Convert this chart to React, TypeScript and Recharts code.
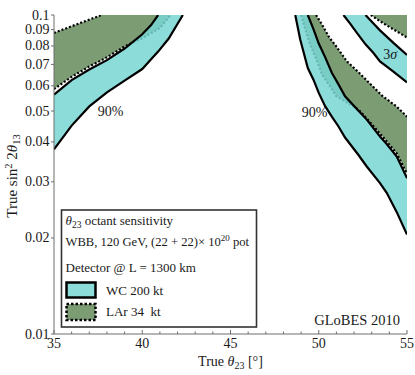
import React from 'react';
import { ComposedChart, Area, Line, XAxis, YAxis, ReferenceDot } from 'recharts';

// ---------------- data ----------------
const X_DOMAIN: [number, number] = [35, 55];
const Y_DOMAIN: [number, number] = [0.01, 0.1];
const Y_TOP = 0.1;

const xTicks = [35, 36, 37, 38, 39, 40, 41, 42, 43, 44, 45, 46, 47, 48, 49, 50, 51, 52, 53, 54, 55];
const xLabelTicks = [35, 40, 45, 50, 55];
const yTicks = [0.01, 0.02, 0.03, 0.04, 0.05, 0.06, 0.07, 0.08, 0.09, 0.1];
const yTickLabels = ['0.01', '0.02', '0.03', '0.04', '0.05', '0.06', '0.07', '0.08', '0.09', '0.1'];

// WC 200 kt, 90% band, lower octant (left)
const wcLeftTheta = [35, 36, 37, 38, 39, 40, 40.5, 40.9, 41.5, 42.3];
const wcLeftLow = [0.0379, 0.045, 0.0517, 0.0572, 0.0623, 0.0677, 0.0726, 0.0768, 0.0844, 0.1];
const wcLeftHigh = [0.0563, 0.0625, 0.0675, 0.0722, 0.0785, 0.087, 0.093, 0.1, null, null];

// LAr 34 kt, 90% band, lower octant (left)
const larLeftTheta = [35, 36, 37, 37.7, 38, 39, 40, 41, 41.6];
const larLeftLow = [0.0586, 0.064, 0.069, 0.0722, 0.0737, 0.0797, 0.0845, 0.091, 0.1];
const larLeftHigh = [0.0879, 0.0922, 0.0967, 0.1, null, null, null, null, null];

// WC 200 kt, 90% band, higher octant (right)
const wcRight90Theta = [48.67, 48.95, 49.38, 49.7, 50.0, 50.36, 50.74, 51.11, 51.49, 52.25, 52.72, 53.47, 53.85, 54.42, 55];
const wcRight90Low = [0.1, 0.0838, 0.0682, 0.0627, 0.057, 0.0518, 0.048, 0.0448, 0.0413, 0.0364, 0.0335, 0.0297, 0.0277, 0.0241, 0.0205];
const wcRight90High = [null, null, 0.1, 0.0903, 0.0814, 0.0738, 0.0659, 0.0607, 0.0556, 0.0501, 0.047, 0.0416, 0.0394, 0.036, 0.0308];

// LAr 34 kt, 90% band, higher octant (right)
const larRight90Theta = [49.0, 49.3, 49.51, 49.85, 50.19, 50.6, 50.98, 51.6, 52.25, 52.7, 53.6, 54.42, 55];
const larRight90Low = [0.1, 0.0879, 0.0808, 0.0729, 0.065, 0.0602, 0.0558, 0.0532, 0.0505, 0.0475, 0.0417, 0.0368, 0.0318];
const larRight90High = [null, null, null, 0.1, 0.0932, 0.085, 0.0799, 0.0715, 0.0662, 0.0625, 0.0558, 0.0516, 0.048];

// WC 200 kt, 3 sigma band, higher octant (right)
const wcRight3sTheta = [51.4, 51.8, 52.15, 52.65, 53.1, 53.47, 54.23, 55];
const wcRight3sLow = [0.1, 0.0936, 0.088, 0.0809, 0.076, 0.0715, 0.0665, 0.0615];
const wcRight3sHigh = [null, null, null, 0.1, 0.094, 0.0895, 0.0818, 0.075];

// LAr 34 kt, 3 sigma band, higher octant (right)
const larRight3sTheta = [52.95, 53.4, 53.85, 55];
const larRight3sLow = [0.1, 0.0962, 0.0928, 0.085];
const larRight3sHigh = [null, null, null, null];

// ---------------- helpers ----------------
type Num = number | null;
const toRangeRows = (theta: number[], low: number[], high: Num[]) =>
  theta.map((x, i) => ({ x, range: [low[i], high[i] ?? Y_TOP] }));
const toLineRows = (theta: number[], vals: Num[]) =>
  theta.flatMap((x, i) => (vals[i] == null ? [] : [{ x, y: vals[i] as number }]));

const wcBands = [
  { theta: wcLeftTheta, low: wcLeftLow, high: wcLeftHigh },
  { theta: wcRight90Theta, low: wcRight90Low, high: wcRight90High },
  { theta: wcRight3sTheta, low: wcRight3sLow, high: wcRight3sHigh },
];
const larBands = [
  { theta: larLeftTheta, low: larLeftLow, high: larLeftHigh },
  { theta: larRight90Theta, low: larRight90Low, high: larRight90High },
  { theta: larRight3sTheta, low: larRight3sLow, high: larRight3sHigh },
];

// ---------------- styles ----------------
const FONT = "'Liberation Serif', 'DejaVu Serif', 'Times New Roman', serif";
const INK = '#1a1a1a';
const FRAME = '#6e6e6e';
const CYAN = '#78D6D3';
const CYAN_SWATCH = '#8CDCDA';
const GREEN = '#7C9C74';
const W = 415;
const H = 375;

const BottomTick = (props: any) => {
  const { x, y, payload } = props;
  const v = payload.value;
  const major = xLabelTicks.includes(v);
  return (
    <g>
      <line x1={x} x2={x} y1={y} y2={y - (major ? 4 : 2.5)} stroke={FRAME} strokeWidth={1} />
      {major && (
        <text x={x} y={y + 14} textAnchor="middle" fontFamily={FONT} fontSize={14} fill={INK}>
          {v}
        </text>
      )}
    </g>
  );
};

const TopTick = (props: any) => {
  const { x, y, payload } = props;
  const major = xLabelTicks.includes(payload.value);
  return <line x1={x} x2={x} y1={y} y2={y + (major ? 4 : 2.5)} stroke={FRAME} strokeWidth={1} />;
};

const LeftTick = (props: any) => {
  const { x, y, payload } = props;
  const i = yTicks.findIndex((t) => Math.abs(t - payload.value) < 1e-9);
  return (
    <g>
      <line x1={x - 3} x2={x} y1={y} y2={y} stroke={FRAME} strokeWidth={1} />
      <text x={x - 4.5} y={y + 4.5} textAnchor="end" fontFamily={FONT} fontSize={14} fill={INK}>
        {i >= 0 ? yTickLabels[i] : ''}
      </text>
    </g>
  );
};

const RightTick = (props: any) => {
  const { x, y } = props;
  return <line x1={x} x2={x - 3} y1={y} y2={y} stroke={FRAME} strokeWidth={1} />;
};

const textShape = (content: React.ReactNode) => (p: any) => (
  <text x={p.cx} y={p.cy + 4.5} textAnchor="middle" fontFamily={FONT} fontSize={14} fill={INK}>
    {content}
  </text>
);

export default function App() {
  return (
    <div style={{ position: 'relative', width: W, height: H }}>
      <style>{'body{margin:0}'}</style>
      <ComposedChart width={W} height={H} margin={{ top: 15, right: 8, bottom: 0, left: 0 }}>
        {larBands.map((b, i) => (
          <Area
            key={'lar-area-' + i}
            xAxisId="b"
            yAxisId="l"
            data={toRangeRows(b.theta, b.low, b.high)}
            dataKey="range"
            type="linear"
            fill={GREEN}
            fillOpacity={1}
            stroke="none"
            isAnimationActive={false}
            zIndex={100}
          />
        ))}
        {larBands.flatMap((b, i) => [
          <Line
            key={'lar-lo-' + i}
            xAxisId="b"
            yAxisId="l"
            data={toLineRows(b.theta, b.low)}
            dataKey="y"
            type="linear"
            stroke="#000"
            strokeWidth={2.2}
            strokeDasharray="2 2"
            dot={false}
            activeDot={false}
            isAnimationActive={false}
            zIndex={101}
          />,
          <Line
            key={'lar-hi-' + i}
            xAxisId="b"
            yAxisId="l"
            data={toLineRows(b.theta, b.high)}
            dataKey="y"
            type="linear"
            stroke="#000"
            strokeWidth={2.2}
            strokeDasharray="2 2"
            dot={false}
            activeDot={false}
            isAnimationActive={false}
            zIndex={101}
          />,
        ])}
        {wcBands.map((b, i) => (
          <Area
            key={'wc-area-' + i}
            xAxisId="b"
            yAxisId="l"
            data={toRangeRows(b.theta, b.low, b.high)}
            dataKey="range"
            type="linear"
            fill={CYAN}
            fillOpacity={0.85}
            stroke="none"
            isAnimationActive={false}
            zIndex={102}
          />
        ))}
        {wcBands.flatMap((b, i) => [
          <Line
            key={'wc-lo-' + i}
            xAxisId="b"
            yAxisId="l"
            data={toLineRows(b.theta, b.low)}
            dataKey="y"
            type="linear"
            stroke="#000"
            strokeWidth={2.2}
            dot={false}
            activeDot={false}
            isAnimationActive={false}
            zIndex={103}
          />,
          <Line
            key={'wc-hi-' + i}
            xAxisId="b"
            yAxisId="l"
            data={toLineRows(b.theta, b.high)}
            dataKey="y"
            type="linear"
            stroke="#000"
            strokeWidth={2.2}
            dot={false}
            activeDot={false}
            isAnimationActive={false}
            zIndex={103}
          />,
        ])}
        <ReferenceDot xAxisId="b" yAxisId="l" x={38.2} y={0.0497} r={1} shape={textShape('90%')} />
        <ReferenceDot xAxisId="b" yAxisId="l" x={49.76} y={0.0493} r={1} shape={textShape('90%')} />
        <ReferenceDot
          xAxisId="b"
          yAxisId="l"
          x={54.05}
          y={0.075}
          r={1}
          shape={textShape(
            <>
              3<tspan fontStyle="italic">σ</tspan>
            </>
          )}
        />
        <XAxis
          xAxisId="b"
          dataKey="x"
          type="number"
          domain={X_DOMAIN}
          ticks={xTicks}
          interval={0}
          allowDataOverflow
          orientation="bottom"
          height={41}
          tickSize={0}
          tickMargin={0}
          tickLine={false}
          axisLine={{ stroke: FRAME, strokeWidth: 1 }}
          tick={<BottomTick />}
        />
        <XAxis
          xAxisId="t"
          dataKey="x"
          type="number"
          domain={X_DOMAIN}
          ticks={xTicks}
          interval={0}
          allowDataOverflow
          orientation="top"
          height={0}
          tickSize={0}
          tickMargin={0}
          tickLine={false}
          axisLine={{ stroke: FRAME, strokeWidth: 1 }}
          tick={<TopTick />}
        />
        <YAxis
          yAxisId="l"
          type="number"
          scale="log"
          domain={Y_DOMAIN}
          ticks={yTicks}
          interval={0}
          allowDataOverflow
          width={54}
          tickSize={0}
          tickMargin={0}
          tickLine={false}
          axisLine={{ stroke: FRAME, strokeWidth: 1 }}
          tick={<LeftTick />}
        />
        <YAxis
          yAxisId="r"
          orientation="right"
          type="number"
          scale="log"
          domain={Y_DOMAIN}
          ticks={yTicks}
          interval={0}
          allowDataOverflow
          width={0}
          tickSize={0}
          tickMargin={0}
          tickLine={false}
          axisLine={{ stroke: FRAME, strokeWidth: 1 }}
          tick={<RightTick />}
        />
      </ComposedChart>
      <svg
        width={W}
        height={H}
        style={{ position: 'absolute', left: 0, top: 0, pointerEvents: 'none' }}
        fontFamily={FONT}
        fill={INK}
      >
        {/* axis titles */}
        <text x={230.5} y={366} textAnchor="middle" fontSize={14}>
          True <tspan fontStyle="italic">θ</tspan>
          <tspan fontSize={10} dy={3}>23</tspan>
          <tspan dy={-3}> [°]</tspan>
        </text>
        <text transform="translate(16.5,176) rotate(-90)" textAnchor="middle" fontSize={15}>
          True sin<tspan fontSize={10.5} dy={-5}>2</tspan>
          <tspan dy={5}> 2</tspan>
          <tspan fontStyle="italic">θ</tspan>
          <tspan fontSize={10.5} dy={3}>13</tspan>
        </text>
        {/* legend box */}
        <rect x={61.5} y={210} width={195} height={117} fill="#fff" stroke="#333" strokeWidth={1.6} />
        <text x={65.5} y={225} fontSize={13}>
          <tspan fontStyle="italic">θ</tspan>
          <tspan fontSize={9.5} dy={3}>23</tspan>
          <tspan dy={-3}> octant sensitivity</tspan>
        </text>
        <text x={65.5} y={246} fontSize={12.6}>
          WBB, 120 GeV, (22 + 22)× 10<tspan fontSize={9} dy={-5}>20</tspan>
          <tspan dy={5}> pot</tspan>
        </text>
        <text x={65.5} y={271.5} fontSize={13}>
          Detector @ L = 1300 km
        </text>
        <rect x={66.5} y={282.5} width={29} height={15} fill={CYAN_SWATCH} stroke="#000" strokeWidth={2.5} />
        <text x={106} y={294.5} fontSize={13}>
          WC 200 kt
        </text>
        <rect
          x={66.5}
          y={304}
          width={29}
          height={16}
          fill={GREEN}
          stroke="#000"
          strokeWidth={2.5}
          strokeDasharray="2.5 2"
        />
        <text x={106} y={316} fontSize={13} style={{ whiteSpace: 'pre' }}>
          {'LAr 34  kt'}
        </text>
        <text x={400} y={324.5} textAnchor="end" fontSize={14.5}>
          GLoBES 2010
        </text>
      </svg>
    </div>
  );
}
